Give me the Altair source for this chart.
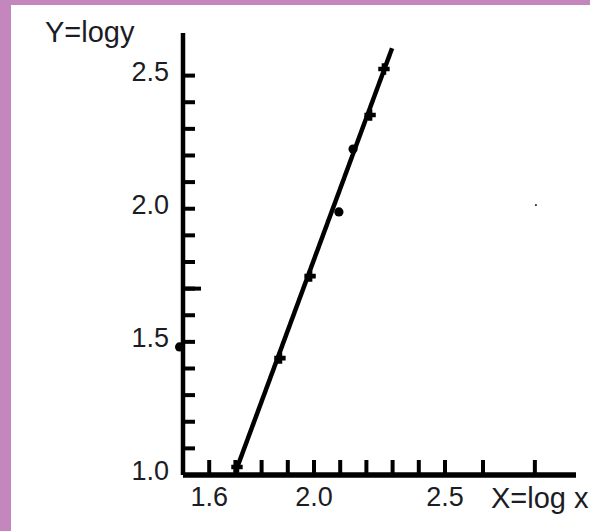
import altair as alt
import pandas as pd

# ---- data ----
line_x = [1.70, 2.298]
line_y = [1.01, 2.603]

cross_x = [1.706, 1.870, 1.985, 2.214, 2.267]
cross_y = [1.030, 1.439, 1.747, 2.352, 2.525]

dot_x = [2.095, 2.149, 1.487]
dot_y = [1.988, 2.224, 1.481]

speck_x = [2.847]
speck_y = [2.014]

x_ticks = [1.6, 1.7, 1.8, 1.9, 2.0, 2.1, 2.2, 2.3, 2.4, 2.5, 2.645, 2.843]
y_ticks = [1.1, 1.2, 1.3, 1.4, 1.5, 1.6, 1.7, 1.8, 1.9, 2.0, 2.1, 2.2, 2.3, 2.4, 2.5]
y_long_ticks = [1.7]

x_label_values = [1.6, 2.0, 2.5]
x_label_text = ["1.6", "2.0", "2.5"]
y_label_values = [1.0, 1.5, 2.0, 2.5]
y_label_text = ["1.0", "1.5", "2.0", "2.5"]

x_title = "X=log x"
y_title = "Y=logy"

X_DOMAIN = [1.5, 3.0]
Y_DOMAIN = [1.0, 2.66]

# ---- layout ----
W, H = 393, 442
PAD_L, PAD_T = 183, 33
PAD_R, PAD_B = 590 - PAD_L - W, 531 - PAD_T - H
FONT = "Liberation Sans"
TXT = "#1c1c24"
PURPLE = "#C386BD"

xs = alt.Scale(domain=X_DOMAIN, nice=False, zero=False)
ys = alt.Scale(domain=Y_DOMAIN, nice=False, zero=False)


def X(f):
    return alt.X(f, type="quantitative", scale=xs, axis=None)


def Y(f):
    return alt.Y(f, type="quantitative", scale=ys, axis=None)


one = pd.DataFrame({"a": [0]})

# purple frame strips (left and top) of the scanned page
left_strip = alt.Chart(one).mark_rect(color=PURPLE).encode(
    x=alt.value(-PAD_L), x2=alt.value(11 - PAD_L),
    y=alt.value(-PAD_T), y2=alt.value(531 - PAD_T),
)
top_strip = alt.Chart(one).mark_rect(color=PURPLE).encode(
    x=alt.value(-PAD_L), x2=alt.value(590 - PAD_L),
    y=alt.value(-PAD_T), y2=alt.value(5 - PAD_T),
)

yaxis_df = pd.DataFrame({"x": [X_DOMAIN[0]], "y": [Y_DOMAIN[0]], "y2": [Y_DOMAIN[1]]})
yaxis = alt.Chart(yaxis_df).mark_rule(color="black", strokeWidth=4.5).encode(
    x=X("x"), y=Y("y"), y2="y2"
)
xaxis_df = pd.DataFrame({"x": [X_DOMAIN[0]], "x2": [X_DOMAIN[1]], "y": [Y_DOMAIN[0]]})
xaxis = alt.Chart(xaxis_df).mark_rule(color="black", strokeWidth=5.5).encode(
    x=X("x"), x2="x2", y=Y("y")
)

yt_df = pd.DataFrame({"y": y_ticks, "x": X_DOMAIN[0]})
yt = alt.Chart(yt_df).mark_rule(color="black", strokeWidth=4, x2Offset=12).encode(
    x=X("x"), x2="x", y=Y("y")
)
ylt_df = pd.DataFrame({"y": y_long_ticks, "x": X_DOMAIN[0]})
ylt = alt.Chart(ylt_df).mark_rule(color="black", strokeWidth=4, x2Offset=18).encode(
    x=X("x"), x2="x", y=Y("y")
)
xt_df = pd.DataFrame({"x": x_ticks, "y": Y_DOMAIN[0]})
xt = alt.Chart(xt_df).mark_rule(color="black", strokeWidth=4, y2Offset=-15).encode(
    x=X("x"), y=Y("y"), y2="y"
)

ylab_df = pd.DataFrame({"y": y_label_values, "x": X_DOMAIN[0], "t": y_label_text})
ylab = alt.Chart(ylab_df).mark_text(
    align="right", baseline="middle", dx=-14, dy=-3, fontSize=27, font=FONT, color=TXT
).encode(x=X("x"), y=Y("y"), text="t:N")

xlab_df = pd.DataFrame({"x": x_label_values, "y": Y_DOMAIN[0], "t": x_label_text})
xlab = alt.Chart(xlab_df).mark_text(
    align="center", baseline="middle", dy=23, fontSize=27, font=FONT, color=TXT
).encode(x=X("x"), y=Y("y"), text="t:N")

ytitle = alt.Chart(one).mark_text(
    align="left", baseline="alphabetic", fontSize=29, font=FONT, color=TXT
).encode(x=alt.value(45 - PAD_L), y=alt.value(42 - PAD_T), text=alt.value(y_title))

xtitle = alt.Chart(one).mark_text(
    align="left", baseline="alphabetic", fontSize=29, font=FONT, color=TXT
).encode(x=alt.value(491 - PAD_L), y=alt.value(508 - PAD_T), text=alt.value(x_title))

line = alt.Chart(pd.DataFrame({"x": line_x, "y": line_y})).mark_line(
    color="black", strokeWidth=4.5
).encode(x=X("x"), y=Y("y"), order=alt.Order("x:Q"))

crosses = alt.Chart(pd.DataFrame({"x": cross_x, "y": cross_y})).mark_point(
    shape="cross", filled=True, color="black", size=130, opacity=1
).encode(x=X("x"), y=Y("y"))

dots = alt.Chart(pd.DataFrame({"x": dot_x, "y": dot_y})).mark_point(
    shape="circle", filled=True, color="black", size=85, opacity=1
).encode(x=X("x"), y=Y("y"))

specks = alt.Chart(pd.DataFrame({"x": speck_x, "y": speck_y})).mark_point(
    shape="circle", filled=True, color="#333333", size=5, opacity=1
).encode(x=X("x"), y=Y("y"))

chart = alt.layer(
    left_strip, top_strip, line, crosses, dots, specks, yaxis, xaxis, yt, ylt, xt,
    ylab, xlab, ytitle, xtitle
).properties(
    width=W, height=H,
    autosize=alt.AutoSizeParams(type="none"),
    padding={"left": PAD_L, "top": PAD_T, "right": PAD_R, "bottom": PAD_B},
    background="white",
).configure_view(stroke=None)

chart.save("out.html", embed_options={"renderer": "svg", "actions": False})
